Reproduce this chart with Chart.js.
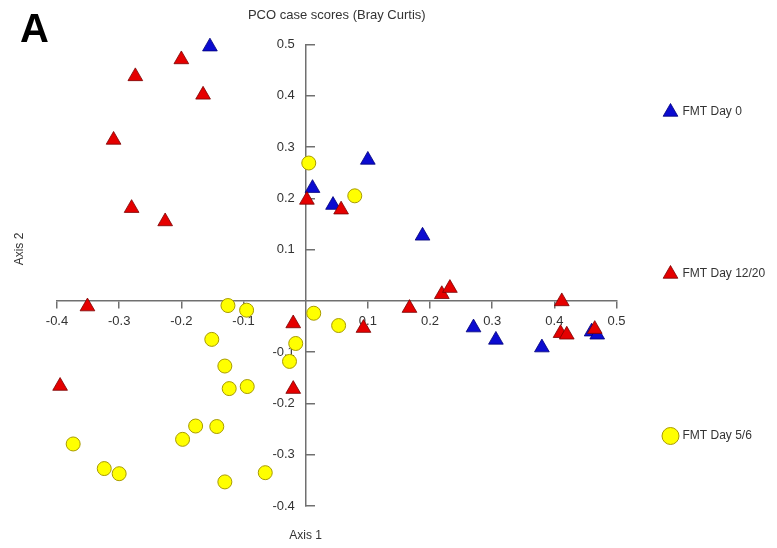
<!DOCTYPE html>
<html>
<head>
<meta charset="utf-8">
<script src="https://cdn.jsdelivr.net/npm/chart.js@4.4.1/dist/chart.umd.min.js"></script>
<style>
  html, body { margin: 0; padding: 0; background: #fff; }
  #wrap { width: 777px; height: 548px; position: relative; }
</style>
</head>
<body>
<div id="wrap"><canvas id="chart"></canvas></div>
<script>
// PCO case scores
const seriesNames = ["FMT Day 0", "FMT Day 12/20", "FMT Day 5/6"];

const day0X = [-0.154, 0.100, 0.011, 0.044, 0.188, 0.270, 0.306, 0.380, 0.460, 0.469];
const day0Y = [0.496, 0.275, 0.220, 0.187, 0.127, -0.052, -0.076, -0.091, -0.060, -0.066];

const day12X = [-0.200, -0.274, -0.165, -0.309, -0.280, -0.226, 0.002, 0.057, -0.351, -0.395,
                -0.020, -0.020, 0.093, 0.167, 0.219, 0.232, 0.412, 0.410, 0.420, 0.465];
const day12Y = [0.471, 0.438, 0.402, 0.314, 0.181, 0.155, 0.197, 0.178, -0.011, -0.166,
                -0.044, -0.172, -0.053, -0.014, 0.013, 0.025, -0.001, -0.063, -0.066, -0.055];

const day5X = [0.005, 0.079, -0.125, -0.095, 0.013, 0.053, -0.151, -0.016, -0.026, -0.130,
               -0.123, -0.094, -0.177, -0.143, -0.198, -0.374, -0.324, -0.300, -0.130, -0.065];
const day5Y = [0.269, 0.205, -0.009, -0.018, -0.024, -0.048, -0.075, -0.083, -0.118, -0.127,
               -0.171, -0.167, -0.244, -0.245, -0.270, -0.279, -0.327, -0.337, -0.353, -0.335];

const xRange = [-0.4, 0.5];
const yRange = [-0.4, 0.5];
const tickStep = 0.1;

const FONT = '"Liberation Sans", Arial, sans-serif';
const axisColor = "#707070";

const toPoints = (xs, ys) => xs.map((x, i) => ({ x: x, y: ys[i] }));

// no label at the origin, one decimal elsewhere
const xTickLabel = (v) => (Math.abs(v) < 1e-9 ? null : v.toFixed(1));
// y labels are right-aligned on the axis itself, so pad them off it
const yTickLabel = (v) => (Math.abs(v) < 1e-9 ? null : v.toFixed(1) + "   ");

// figure letter and the two axis names
const annotate = {
  id: "annotate",
  afterDraw(chart) {
    const { ctx, scales } = chart;
    ctx.save();
    ctx.fillStyle = "#000";
    ctx.font = "bold 40px " + FONT;
    ctx.textAlign = "left";
    ctx.textBaseline = "alphabetic";
    ctx.fillText("A", 20, 42);

    ctx.fillStyle = "#333";
    ctx.font = "12px " + FONT;
    ctx.textAlign = "center";
    ctx.textBaseline = "middle";
    ctx.fillText("Axis 1", scales.x.getPixelForValue(0), 536);
    ctx.translate(20, 249);
    ctx.rotate(-Math.PI / 2);
    ctx.fillText("Axis 2", 0, 0);
    ctx.restore();
  },
};

const ctx = document.getElementById("chart").getContext("2d");

new Chart(ctx, {
  type: "scatter",
  data: {
    datasets: [
      {
        label: seriesNames[0],
        data: toPoints(day0X, day0Y),
        pointStyle: "triangle",
        pointRadius: 8.5,
        backgroundColor: "#0b0bd0",
        borderColor: "#00007a",
        borderWidth: 0.8,
        clip: false,
        order: 1,
      },
      {
        label: seriesNames[1],
        data: toPoints(day12X, day12Y),
        pointStyle: "triangle",
        pointRadius: 8.5,
        backgroundColor: "#e50000",
        borderColor: "#7a0000",
        borderWidth: 0.8,
        clip: false,
        order: 0,
      },
      {
        label: seriesNames[2],
        data: toPoints(day5X, day5Y),
        pointStyle: "circle",
        pointRadius: 7,
        backgroundColor: "#ffff00",
        borderColor: "#a89a00",
        borderWidth: 1,
        clip: false,
        order: 2,
      },
    ],
  },
  options: {
    responsive: true,
    maintainAspectRatio: false,
    animation: false,
    layout: {
      padding: { left: 57, top: 0, right: 3, bottom: 0 },
    },
    plugins: {
      tooltip: { enabled: false },
      title: {
        display: true,
        text: "PCO case scores (Bray Curtis)",
        fullSize: false,
        color: "#333",
        font: { family: FONT, size: 13, weight: "normal" },
        padding: { top: 8, bottom: 21 },
      },
      legend: {
        position: "right",
        align: "center",
        labels: {
          usePointStyle: true,
          color: "#333",
          padding: 10,
          font: { family: FONT, size: 12, lineHeight: "152px" },
          sort: (a, b) => a.datasetIndex - b.datasetIndex,
          generateLabels: (chart) => {
            const items = Chart.defaults.plugins.legend.labels.generateLabels(chart);
            // spread the entries down the side like the original
            items.forEach((it) => {
              if (it.datasetIndex < 2) it.text = [it.text];
            });
            return items;
          },
        },
      },
    },
    scales: {
      x: {
        type: "linear",
        min: xRange[0],
        max: xRange[1],
        position: { y: 0 },
        border: { color: axisColor, width: 1.5 },
        grid: { drawOnChartArea: false, color: axisColor, lineWidth: 1.5, tickLength: 7 },
        ticks: {
          stepSize: tickStep,
          autoSkip: false,
          maxRotation: 0,
          padding: 6,
          color: "#333",
          font: { family: FONT, size: 13 },
          callback: xTickLabel,
        },
      },
      y: {
        type: "linear",
        min: yRange[0],
        max: yRange[1],
        position: { x: 0 },
        border: { color: axisColor, width: 1.5 },
        // ticks point to the right of the axis, as in the figure
        grid: { drawOnChartArea: false, color: axisColor, lineWidth: 1.5, tickLength: -10 },
        ticks: {
          stepSize: tickStep,
          autoSkip: false,
          padding: 3,
          color: "#333",
          font: { family: FONT, size: 13 },
          callback: yTickLabel,
        },
      },
      // empty axes that only reserve room: legend gap and the strip for "Axis 1"
      gap: {
        type: "linear",
        position: "right",
        display: true,
        afterFit: (s) => { s.width = 38; },
        border: { display: false },
        grid: { display: false },
        ticks: { display: false },
      },
      xGap: {
        type: "linear",
        position: "bottom",
        display: true,
        afterFit: (s) => { s.height = 42; },
        border: { display: false },
        grid: { display: false },
        ticks: { display: false },
      },
    },
  },
  plugins: [annotate],
});
</script>
</body>
</html>
